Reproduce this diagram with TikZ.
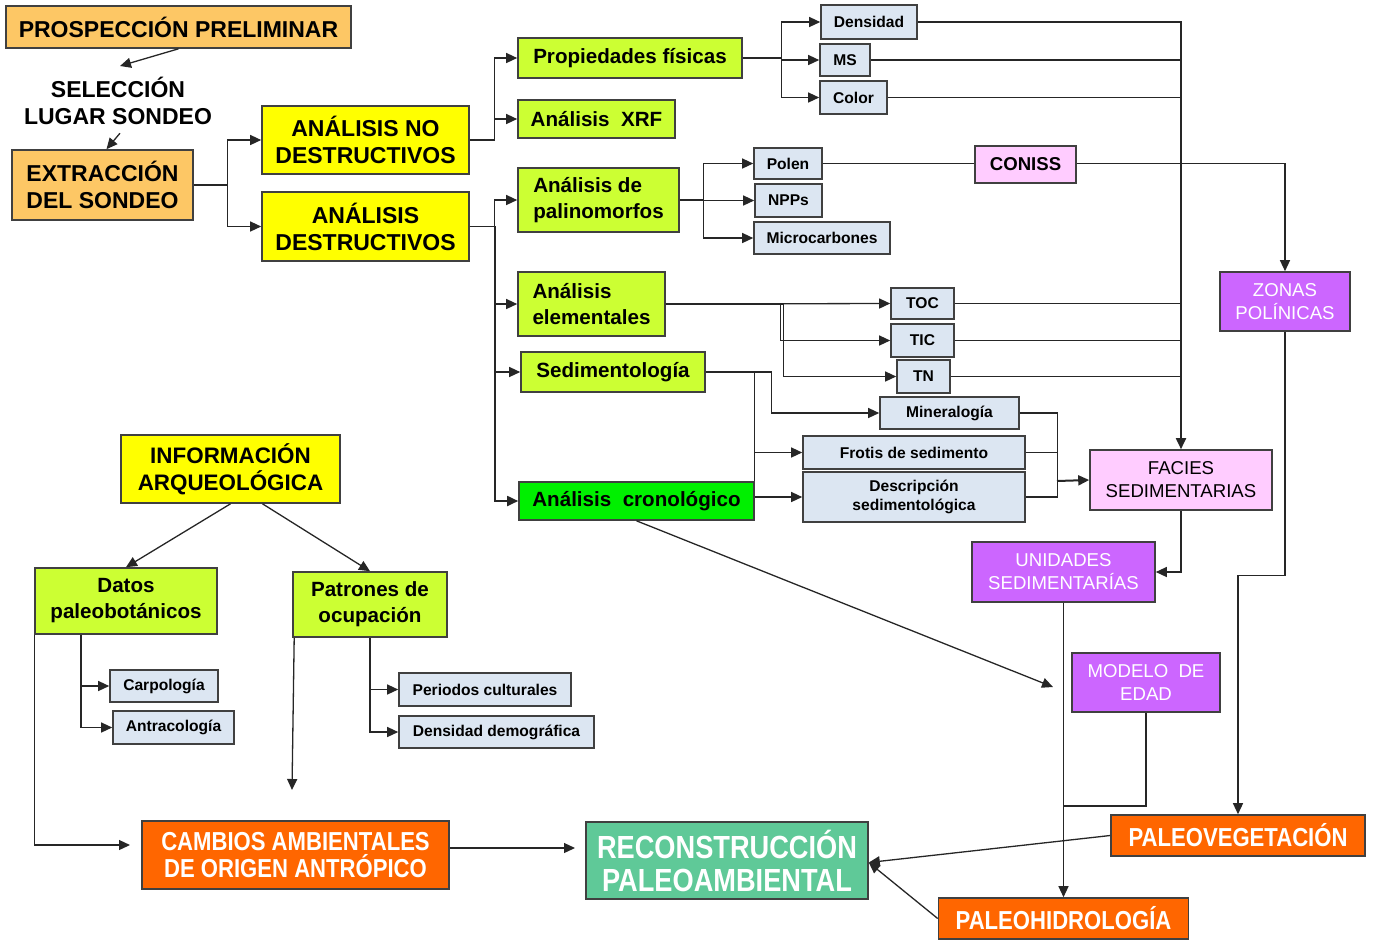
\documentclass[tikz,border=0pt]{standalone}
\usepackage{fontspec}
\setmainfont{Liberation Sans}
\newfontfamily\condfont[FakeStretch=0.85]{Liberation Sans}
\usetikzlibrary{arrows.meta}
\definecolor{cOrL}{HTML}{FDC765}
\definecolor{cYel}{HTML}{FFFF00}
\definecolor{cLime}{HTML}{CCFF33}
\definecolor{cGreen}{HTML}{00F000}
\definecolor{cBlue}{HTML}{DCE6F2}
\definecolor{cPink}{HTML}{FFCCFF}
\definecolor{cPurp}{HTML}{CC66FF}
\definecolor{cOrn}{HTML}{FF6600}
\definecolor{cTeal}{HTML}{5FC998}
\tikzset{
 box/.style={draw=black!75, line width=0.8pt, inner sep=0pt, align=center},
 bxOrL/.style={box, fill=cOrL, font=\bfseries\fontsize{11.5}{13.5}\selectfont},
 bxYel/.style={box, fill=cYel, font=\bfseries\fontsize{11.5}{13.5}\selectfont},
 bxLime/.style={box, fill=cLime, font=\bfseries\fontsize{10.3}{13}\selectfont},
 bxSm/.style={box, fill=cBlue, font=\bfseries\fontsize{7.8}{9.5}\selectfont},
 bxPink/.style={box, fill=cPink, font=\fontsize{9.3}{11.5}\selectfont},
 bxPurp/.style={box, fill=cPurp, text=white, font=\fontsize{9.3}{11.5}\selectfont},
 bxOrn/.style={box, fill=cOrn, text=white, font=\condfont\bfseries\fontsize{13}{13.5}\selectfont},
 bxTeal/.style={box, fill=cTeal, text=white, font=\condfont\bfseries\fontsize{16}{16.5}\selectfont},
 conn/.style={draw=black!85, line width=0.65pt},
 arr/.style={conn, -{Triangle[length=5.5pt,width=5pt]}},
}
\begin{document}
\begin{tikzpicture}[x=0.5pt,y=-0.5pt]
\useasboundingbox (0,0) rectangle (1378,939);
% top-left chain
\node[bxOrL, minimum width=172.5pt, minimum height=21pt] (prosp) at (178.5,27) {PROSPECCIÓN PRELIMINAR};
\node[align=center, inner sep=0pt, font=\bfseries\fontsize{11.5}{13.5}\selectfont] (selec) at (118,101) {SELECCIÓN\\LUGAR SONDEO};
\node[bxOrL, align=left, minimum width=90.5pt, minimum height=35pt] (extr) at (102.5,185) {EXTRACCIÓN\\DEL SONDEO};
\node[bxYel, minimum width=103.5pt, minimum height=34pt] (nodestr) at (365.5,140) {ANÁLISIS NO\\DESTRUCTIVOS};
\node[bxYel, minimum width=103.5pt, minimum height=34.5pt] (destr) at (365.5,226.5) {ANÁLISIS\\DESTRUCTIVOS};
% second column
\node[bxLime, minimum width=112pt, minimum height=20pt] (prop) at (630,58) {Propiedades físicas};
\node[bxLime, minimum width=78.5pt, minimum height=19pt] (xrf) at (596.5,119) {Análisis\ \ XRF};
\node[bxLime, align=left, minimum width=80.5pt, minimum height=32pt] (palin) at (598.5,200) {Análisis de\\palinomorfos};
\node[bxLime, align=left, minimum width=73.5pt, minimum height=32pt] (elem) at (591.5,304) {Análisis\\elementales};
\node[bxLime, minimum width=92pt, minimum height=20pt] (sedim) at (613,372) {Sedimentología};
\node[bxLime, fill=cGreen, minimum width=117.5pt, minimum height=19pt] (crono) at (636.5,501) {Análisis\ \ cronológico};
% small boxes
\node[bxSm, minimum width=48pt, minimum height=17pt] (dens) at (869,22) {Densidad};
\node[bxSm, minimum width=25pt, minimum height=16pt] (ms) at (845,60) {MS};
\node[bxSm, minimum width=33.5pt, minimum height=16.5pt] (color) at (853.5,97.5) {Color};
\node[bxSm, minimum width=34pt, minimum height=15.5pt] (polen) at (788,163.5) {Polen};
\node[bxSm, minimum width=33.5pt, minimum height=16.5pt] (npps) at (788.5,200.5) {NPPs};
\node[bxSm, minimum width=68pt, minimum height=16pt] (micro) at (822,238) {Microcarbones};
\node[bxSm, minimum width=31.5pt, minimum height=15.5pt] (toc) at (922.5,303.5) {TOC};
\node[bxSm, minimum width=31.5pt, minimum height=16.5pt] (tic) at (922.5,340.5) {TIC};
\node[bxSm, minimum width=26.5pt, minimum height=16.5pt] (tn) at (923.5,376.5) {TN};
\node[bxSm, minimum width=69.5pt, minimum height=16pt] (miner) at (949.5,413) {Mineralogía};
\node[bxSm, minimum width=111pt, minimum height=16.5pt] (frotis) at (914,452.5) {Frotis de sedimento};
\node[bxSm, minimum width=111pt, minimum height=25pt] (desc) at (914,497) {Descripción\\sedimentológica};
% right side
\node[bxPink, font=\bfseries\fontsize{9.3}{11.5}\selectfont, minimum width=50.5pt, minimum height=18.5pt] (coniss) at (1025.5,164.5) {CONISS};
\node[bxPurp, minimum width=65pt, minimum height=29.5pt] (zonas) at (1285,301.5) {ZONAS\\POLÍNICAS};
\node[bxPink, minimum width=91pt, minimum height=30pt] (facies) at (1181,480) {FACIES\\SEDIMENTARIAS};
\node[bxPurp, minimum width=91.5pt, minimum height=30pt] (unid) at (1063.5,572) {UNIDADES\\SEDIMENTARÍAS};
\node[bxPurp, minimum width=74pt, minimum height=29.5pt] (modelo) at (1146,682.5) {MODELO\ \ DE\\EDAD};
\node[bxOrn, minimum width=127pt, minimum height=20.5pt] (paleoveg) at (1238,835.5) {PALEOVEGETACIÓN};
\node[bxOrn, minimum width=125pt, minimum height=20.5pt] (paleohid) at (1063.5,918.5) {PALEOHIDROLOGÍA};
\node[bxTeal, minimum width=141pt, minimum height=38.5pt] (recon) at (727,860.5) {RECONSTRUCCIÓN\\PALEOAMBIENTAL};
\node[bxOrn, minimum width=153.5pt, minimum height=34pt] (cambios) at (295.5,855) {CAMBIOS AMBIENTALES\\DE ORIGEN ANTRÓPICO};
% archaeological block
\node[bxYel, font=\bfseries\fontsize{11.2}{13.5}\selectfont, minimum width=109.5pt, minimum height=34pt] (info) at (230.5,469) {INFORMACIÓN\\ARQUEOLÓGICA};
\node[bxLime, minimum width=91pt, minimum height=33pt] (datos) at (126,601) {Datos\\paleobotánicos};
\node[bxLime, minimum width=77pt, minimum height=32.5pt] (patrones) at (370,604.5) {Patrones de\\ocupación};
\node[bxSm, minimum width=54pt, minimum height=16pt] (carpo) at (164,686) {Carpología};
\node[bxSm, minimum width=60.5pt, minimum height=16.5pt] (antra) at (173.5,727.5) {Antracología};
\node[bxSm, minimum width=86pt, minimum height=16.5pt] (period) at (485,689.5) {Periodos culturales};
\node[bxSm, minimum width=97.5pt, minimum height=16pt] (densdem) at (496.5,732) {Densidad demográfica};
% free ends
\coordinate (a1) at (120,66);
\coordinate (cend) at (1053,687);
\coordinate (jx) at (1057,481);
\coordinate (m1) at (1063.5,806);
\coordinate (ca) at (130,845);
\coordinate (pe) at (292,790);
\coordinate (ce) at (575,848);
% connectors
\draw[arr] (prosp.south) -- (a1);
\draw[arr] ([shift={(1pt,-4pt)}]selec.south) -- ([xshift=2pt]extr.north);
\draw[arr] (extr.east) -- ++(34,0) |- (nodestr.west);
\draw[arr] (extr.east) -- ++(34,0) |- (destr.west);
\draw[arr] (nodestr.east) -- ++(25,0) |- (prop.west);
\draw[arr] (nodestr.east) -- ++(25,0) |- (xrf.west);
\draw[arr, line width=0.9pt] (destr.east) -- ++(25,0) |- (crono.west);
\draw[arr] (destr.east) -- ++(25,0) |- (palin.west);
\draw[arr] (destr.east) -- ++(25,0) |- (elem.west);
\draw[arr] (destr.east) -- ++(25,0) |- (sedim.west);
\draw[arr] (prop.east) -- ++(39,0) |- (dens.west);
\draw[arr] (prop.east) -- ++(39,0) |- (ms.west);
\draw[arr] (prop.east) -- ++(39,0) |- (color.west);
\draw[arr, line width=0.9pt] (dens.east) -| (facies.north);
\draw[conn] (ms.east) -- (ms.east -| facies.north);
\draw[conn] (color.east) -- (color.east -| facies.north);
\draw[conn] (toc.east) -- (toc.east -| facies.north);
\draw[conn] (tic.east) -- (tic.east -| facies.north);
\draw[conn] (tn.east) -- (tn.east -| facies.north);
\draw[arr] (palin.east) -- ++(24,0) |- (polen.west);
\draw[arr] (palin.east) -- ++(24,0) |- (npps.west);
\draw[arr] (palin.east) -- ++(24,0) |- (micro.west);
\draw[conn] (polen.east) -- (polen.east -| coniss.west);
\draw[arr] (coniss.east |- polen.east) -| (zonas.north);
\draw[arr] (zonas.south) -- ++(0,243.5) -| (paleoveg.north);
\draw[arr] (elem.east) -- (toc.west);
\draw[arr] (elem.east) -- ++(115,0) |- (tic.west);
\draw[arr] (elem.east) -- ++(118,0) |- (tn.west);
\draw[arr] (sedim.east) -- ++(66,0) |- (miner.west);
\draw[conn] (sedim.east -| crono.east) -- (crono.north east);
\draw[arr] (crono.east |- frotis.west) -- (frotis.west);
\draw[arr] (crono.east |- desc.west) -- (desc.west);
\draw[conn] (miner.east) -- ++(38,0) |- (desc.east);
\draw[conn] (frotis.east) -- (frotis.east -| jx);
\draw[arr, line width=1pt] (jx) -- (facies.west);
\draw[arr] (facies.south) |- (unid.east);
\draw[arr] (unid.south) -- (paleohid.north);
\draw[conn] (modelo.south) |- (m1);
\draw[arr] (crono.south) -- (cend);
\draw[arr] (paleoveg.west) -- ([yshift=-1pt]recon.east);
\draw[arr] (paleohid.west) -- ([yshift=-1pt]recon.east);
\draw[arr] (cambios.east |- ce) -- (ce);
\draw[arr] (info.south) -- (datos.north);
\draw[arr] ([xshift=16pt]info.south) -- (patrones.north);
\draw[arr] ([xshift=-22.5pt]datos.south) |- (carpo.west);
\draw[arr] ([xshift=-22.5pt]datos.south) |- (antra.west);
\draw[arr] (datos.south west) |- (ca);
\draw[arr] ([xshift=1pt]patrones.south west) -- (pe);
\draw[arr] (patrones.south) |- (period.west);
\draw[arr] (patrones.south) |- (densdem.west);
\end{tikzpicture}
\end{document}
